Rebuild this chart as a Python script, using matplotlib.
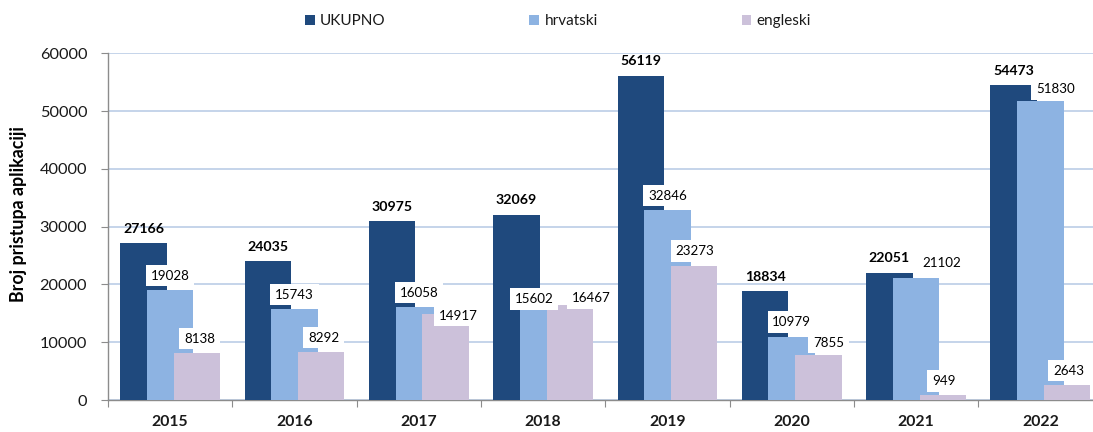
import matplotlib
matplotlib.use("Agg")
import matplotlib.pyplot as plt
from matplotlib.patches import Patch
import numpy as np

years = ["2015", "2016", "2017", "2018", "2019", "2020", "2021", "2022"]
ukupno = [27166, 24035, 30975, 32069, 56119, 18834, 22051, 54473]
hrvatski = [19028, 15743, 16058, 15602, 32846, 10979, 21102, 51830]
engleski = [8138, 8292, 14917, 16467, 23273, 7855, 949, 2643]
series_names = ["UKUPNO", "hrvatski", "engleski"]

colors = ["#1F497D", "#8DB3E2", "#CCC1DA"]
FONT = ["Lato", "DejaVu Sans"]
plt.rcParams["font.family"] = FONT

W, H, DPI = 1093, 432, 100
fig = plt.figure(figsize=(W / DPI, H / DPI), dpi=DPI)
left_px, right_px, top_px, bot_px = 108, 1102.5, 53.3, 400
ax = fig.add_axes([left_px / W, 1 - bot_px / H, (right_px - left_px) / W,
                   (bot_px - top_px) / H])

x = np.arange(len(years))
width = 0.374
offsets = [-0.214, 0.0, 0.215]
all_series = [ukupno, hrvatski, engleski]
for s, (vals, off) in enumerate(zip(all_series, offsets)):
    ax.bar(x + off, vals, width=width, color=colors[s], zorder=3 + s * 0.01,
           label=series_names[s], linewidth=0)

ax.set_xlim(-0.5, len(years) - 0.5)
ax.set_ylim(0, 60000)
ax.set_yticks(np.arange(0, 60001, 10000))
ax.yaxis.grid(True, color="#C5D4EA", linewidth=1.4, zorder=0)
ax.set_axisbelow(True)

for sp in ["top", "right"]:
    ax.spines[sp].set_visible(False)
for sp in ["left", "bottom"]:
    ax.spines[sp].set_color("#8C8C8C")
    ax.spines[sp].set_linewidth(1.0)

ax.set_xticks(np.arange(-0.5, len(years), 1.0))
ax.set_xticklabels([])
ax.set_xticks(x, minor=True)
ax.set_xticklabels(years, minor=True, fontsize=11.3, fontweight="bold",
                   color="#1a1a1a")
ax.tick_params(axis="x", which="major", length=5, color="#8C8C8C", direction="out")
ax.tick_params(axis="x", which="minor", length=0, pad=11)
ax.tick_params(axis="y", length=5, color="#8C8C8C", labelsize=11.8,
               labelcolor="#1a1a1a", pad=10)

ax.set_ylabel("Broj pristupa aplikaciji", fontsize=12.8, fontweight="bold",
              color="#000000")
ax.yaxis.set_label_coords(-(left_px - 27) / (right_px - left_px), 0.535)

# label offsets in pixels (dx, dy above bar top) for individual labels
px2pt = 72.0 / DPI
default_dy = 14.5
special = {
    (1, 3): (-9, 11), (2, 3): (21, 6.5), (2, 2): (13, -2), (2, 5): (10, 12),
    (1, 6): (26, 14.7), (1, 7): (15, 11.4), (2, 0): (2.5, 14.3),
    (2, 1): (2.5, 14.3), (2, 6): (1, 13.5), (2, 7): (1.5, 14), (2, 4): (0.7, 14.5),
}
for s, (vals, off) in enumerate(zip(all_series, offsets)):
    for i, v in enumerate(vals):
        dx, dy = special.get((s, i), (0, default_dy))
        kw = dict(fontsize=9.6, color="#000000")
        if s == 0:
            kw = dict(fontsize=10.2, fontweight="bold", color="#000000")
        else:
            kw["bbox"] = dict(boxstyle="square,pad=0.35", facecolor="white",
                              edgecolor="none")
        ax.annotate(f"{v}", xy=(i + off, v), xytext=(dx * px2pt, dy * px2pt),
                    textcoords="offset points", ha="center", va="center",
                    zorder=6, **kw)

handles = [Patch(facecolor=c, edgecolor="none") for c in colors]
fig.legend(handles, series_names, ncol=3, loc="center",
           bbox_to_anchor=(558 / W, 1 - 21 / H), frameon=False, fontsize=11,
           handlelength=0.65, handleheight=0.65, handletextpad=0.35,
           columnspacing=9.4, labelcolor="#1a1a1a")

fig.savefig("out.png", dpi=DPI)
